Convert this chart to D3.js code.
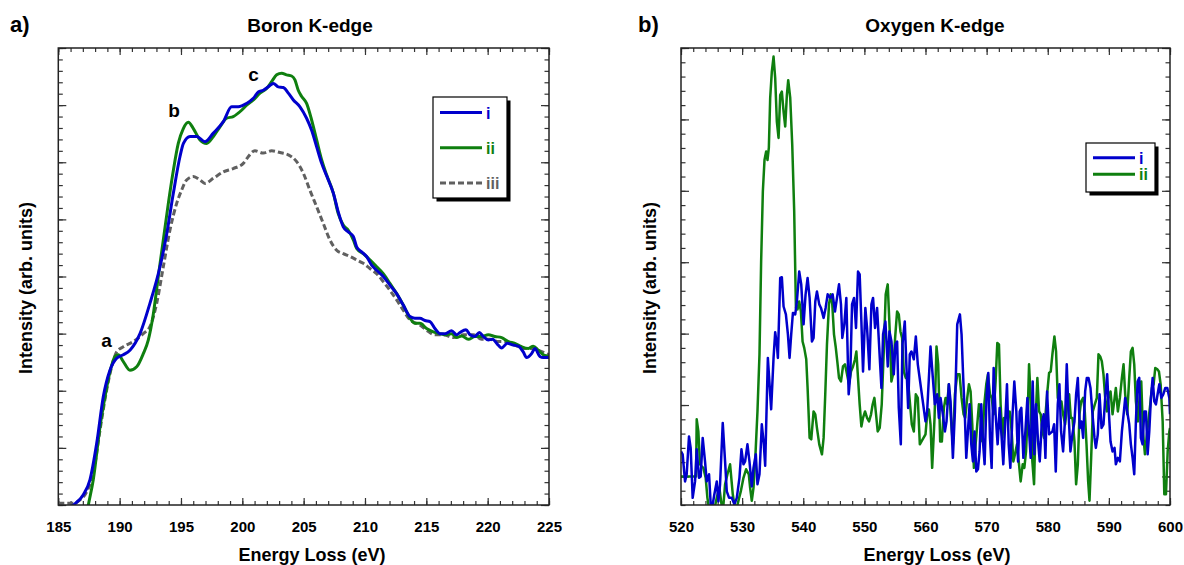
<!DOCTYPE html>
<html>
<head>
<meta charset="utf-8">
<style>
  body { margin: 0; background: #fff; }
  text { font-family: Arial, "Liberation Sans", sans-serif; font-weight: bold; }
</style>
</head>
<body>
<svg id="chart" width="1184" height="565"></svg>
<script src="https://d3js.org/d3.v7.min.js"></script>
<script>
var blue = "#0000cc", green = "#0f7f0f", grey = "#606060";

// Boron K-edge spectra, [energy loss (eV), intensity (arb.)]
var boronI = [[185.5,-0.1],[186.23,0.0],[187.04,0.18],[187.58,0.44],[188.13,1.08],[188.67,1.90],[189.21,2.36],[189.76,2.57],[190.30,2.63],[190.84,2.71],[191.66,3.00],[192.47,3.53],[193.29,4.17],[193.84,4.75],[194.38,5.46],[194.92,6.10],[195.20,6.33],[195.74,6.45],[196.28,6.45],[196.96,6.36],[197.64,6.51],[198.45,6.71],[199.13,6.97],[199.67,6.97],[200.35,7.03],[200.90,7.12],[201.30,7.23],[201.71,7.26],[202.12,7.32],[202.53,7.38],[202.93,7.32],[203.34,7.31],[203.75,7.21],[204.16,7.09],[204.70,6.97],[205.24,6.77],[205.65,6.56],[206.06,6.27],[206.47,5.98],[207.01,5.69],[207.42,5.46],[207.82,5.13],[208.23,4.87],[208.64,4.78],[209.05,4.70],[209.32,4.52],[209.73,4.43],[210.13,4.35],[210.54,4.20],[210.95,4.11],[211.49,4.00],[212.03,3.85],[212.58,3.70],[213.12,3.50],[213.67,3.30],[214.07,3.27],[214.48,3.27],[214.89,3.23],[215.30,3.21],[215.70,3.09],[216.11,3.00],[216.52,3.00],[217.06,3.05],[217.47,2.98],[217.74,3.02],[218.23,3.07],[218.56,2.98],[218.96,2.95],[219.32,3.02],[219.64,2.95],[220.05,2.89],[220.40,2.90],[220.86,2.80],[221.14,2.75],[221.60,2.83],[222.09,2.80],[222.49,2.78],[222.90,2.68],[223.17,2.58],[223.58,2.65],[223.85,2.74],[224.26,2.60],[224.53,2.58],[225.0,2.58]];

var boronII = [[187.2,-0.3],[187.45,0.0],[187.85,0.44],[188.40,1.37],[188.81,1.90],[189.21,2.33],[189.62,2.60],[189.89,2.63],[190.30,2.51],[190.84,2.36],[191.39,2.42],[191.93,2.65],[192.34,2.89],[192.75,3.35],[193.15,4.00],[193.56,4.64],[193.97,5.28],[194.38,5.86],[194.78,6.33],[195.19,6.59],[195.60,6.70],[196.01,6.59],[196.55,6.39],[197.09,6.33],[197.64,6.45],[198.18,6.62],[198.72,6.77],[199.26,6.80],[199.94,6.91],[200.35,7.00],[200.90,7.09],[201.44,7.21],[201.98,7.29],[202.39,7.41],[202.80,7.53],[203.21,7.56],[203.61,7.53],[204.02,7.51],[204.29,7.44],[204.56,7.26],[204.84,7.15],[205.24,7.03],[205.65,6.74],[206.06,6.39],[206.47,6.04],[206.87,5.78],[207.42,5.46],[207.82,5.10],[208.23,4.90],[208.64,4.81],[209.05,4.64],[209.32,4.49],[209.86,4.40],[210.40,4.29],[210.95,4.17],[211.49,4.05],[212.03,3.88],[212.58,3.70],[213.12,3.50],[213.67,3.27],[214.07,3.18],[214.48,3.18],[215.02,3.09],[215.57,3.03],[216.11,3.00],[216.65,2.98],[217.06,3.00],[217.47,2.93],[217.88,2.96],[218.42,2.90],[218.96,2.95],[219.51,2.95],[220.05,2.98],[220.59,2.95],[221.14,2.93],[221.68,2.86],[222.22,2.83],[222.77,2.77],[223.31,2.74],[223.72,2.78],[224.12,2.71],[224.53,2.63],[225.0,2.60]];

var boronIII = [[185.0,0.03],[186.23,0.03],[186.77,0.09],[187.31,0.23],[187.85,0.55],[188.40,1.31],[188.94,2.01],[189.35,2.42],[189.76,2.68],[190.30,2.77],[191.11,2.86],[191.93,3.00],[192.47,3.12],[193.02,3.53],[193.56,4.17],[194.10,4.81],[194.65,5.28],[195.05,5.51],[195.46,5.69],[196.01,5.75],[196.55,5.69],[196.96,5.63],[197.64,5.72],[198.45,5.83],[199.26,5.89],[200.08,5.98],[200.35,6.06],[201.03,6.20],[201.71,6.16],[202.39,6.20],[203.07,6.17],[203.75,6.13],[204.43,6.01],[204.97,5.81],[205.51,5.51],[206.06,5.22],[206.60,4.93],[207.14,4.64],[207.69,4.46],[208.23,4.40],[208.77,4.35],[209.32,4.29],[209.86,4.23],[210.40,4.14],[210.95,4.05],[211.49,3.91],[212.03,3.76],[212.58,3.59],[213.12,3.41],[213.67,3.24],[214.48,3.15],[215.02,3.06],[215.70,2.98],[216.38,2.98],[217.20,2.93],[218.01,2.98],[218.83,2.98],[219.51,2.90],[220.19,2.90],[220.86,2.86],[221.54,2.86],[222.22,2.80],[222.90,2.74],[223.58,2.74],[224.12,2.71],[225.0,2.63]];

var boronPeaks = ["a", "b", "c"];
var boronPeakAt = [[188.94,2.77],[194.43,6.79],[200.91,7.43]];

// Oxygen K-edge spectra
var oxygenI = [[520.00,0.35],[520.27,0.31],[520.66,-0.07],[520.93,0.03],[521.31,0.56],[521.58,0.40],[521.91,-0.30],[522.30,-0.07],[522.57,0.38],[522.95,-0.02],[523.22,0.00],[523.55,0.54],[523.93,0.21],[524.21,-0.07],[524.59,0.03],[524.86,-0.39],[525.19,-0.39],[525.46,-0.25],[525.85,-0.07],[526.12,-0.35],[526.39,-0.11],[526.83,0.75],[527.21,0.21],[527.49,-0.21],[527.87,-0.30],[528.31,-0.30],[528.74,-0.39],[529.13,-0.30],[529.56,-0.02],[529.89,0.38],[530.22,0.17],[530.49,0.21],[530.87,0.45],[531.20,0.21],[531.58,-0.14],[531.86,0.12],[532.24,0.31],[532.51,-0.11],[532.84,0.03],[533.22,0.73],[533.55,0.45],[533.77,0.15],[534.21,1.66],[534.75,0.94],[535.14,1.66],[535.41,2.02],[535.68,1.85],[535.85,1.66],[536.23,2.78],[536.50,2.79],[536.78,2.38],[537.16,2.27],[537.49,1.99],[537.76,1.66],[538.03,1.99],[538.31,2.29],[538.69,2.27],[538.96,2.45],[539.34,2.87],[539.67,2.69],[540.05,2.13],[540.38,2.55],[540.71,2.78],[541.04,2.50],[541.42,1.89],[541.69,1.94],[541.97,2.45],[542.24,2.59],[542.62,2.41],[542.90,2.36],[543.33,2.22],[543.66,2.36],[543.99,2.55],[544.43,2.50],[544.81,2.55],[545.19,2.31],[545.52,2.50],[545.85,2.69],[546.17,2.41],[546.39,1.94],[546.72,2.13],[547.05,2.50],[547.43,1.15],[547.70,1.43],[547.98,2.41],[548.31,2.50],[548.63,2.08],[548.96,2.87],[549.23,2.83],[549.51,2.17],[549.78,1.47],[550.16,2.36],[550.44,2.08],[550.82,1.50],[551.15,2.41],[551.42,2.50],[551.75,2.08],[552.08,2.36],[552.40,1.85],[552.79,1.24],[553.06,1.99],[553.44,2.17],[553.83,1.54],[554.10,2.03],[554.43,1.89],[554.81,1.43],[555.08,1.85],[555.36,1.89],[555.63,0.96],[555.96,0.45],[556.23,1.85],[556.61,2.17],[556.89,1.52],[557.16,0.96],[557.43,1.71],[557.70,1.75],[558.09,1.64],[558.42,1.96],[558.74,1.57],
  [560.00,0.77],[560.27,0.91],[560.82,1.82],[561.20,1.38],[561.53,1.01],[561.91,1.15],[562.19,0.82],[562.46,1.10],[562.84,0.87],[563.17,0.63],[563.44,0.77],[563.82,1.29],[564.10,1.05],[564.48,0.26],[564.81,0.91],[565.19,2.13],[565.63,2.27],[565.90,1.99],[566.17,1.38],[566.45,0.82],[566.67,0.26],[566.94,0.63],[567.21,1.01],[567.49,0.45],[567.76,0.21],[568.03,0.63],[568.31,0.07],[568.58,0.10],[568.85,0.35],[569.12,1.01],[569.40,0.49],[569.67,0.17],[570.00,1.15],[570.27,1.45],[570.55,0.54],[570.82,0.12],[571.15,1.52],[571.47,0.87],[571.80,0.45],[572.13,0.96],[572.46,0.54],[572.73,0.17],[573.00,0.68],[573.33,1.29],[573.61,0.45],[573.88,0.12],[574.21,0.82],[574.53,1.33],[574.86,0.91],[575.14,0.21],[575.41,0.91],[575.68,0.96],[576.01,0.26],[576.34,0.63],[576.67,1.10],[576.94,0.63],[577.21,0.26],[577.54,1.33],[577.81,0.31],[578.09,1.01],[578.41,0.49],[578.69,0.21],[579.01,0.73],[579.34,0.87],[579.62,0.26],[579.89,1.19],[580.22,0.59],[580.49,0.61],[580.76,0.63],[581.04,0.73],[581.31,0.07],[581.64,1.01],[581.91,1.29],[582.18,0.63],[582.51,0.35],[582.84,0.82],[583.11,1.57],[583.39,0.91],[583.71,0.35],[584.04,0.59],[584.37,0.77],[584.64,1.15],[584.92,1.38],[585.24,0.68],[585.52,0.77],[585.79,0.54],[586.12,1.19],[586.39,1.38],[586.67,1.38],[586.99,1.24],[587.32,0.87],[587.65,0.54],[587.87,0.40],[588.19,0.59],[588.47,1.15],[588.80,0.68],[589.12,0.73],[589.40,1.10],[589.72,1.43],[590.05,0.82],[590.27,0.49],[590.60,0.35],[590.93,0.40],[591.14,0.17],[591.47,0.26],[591.80,0.21],[592.13,0.63],[592.46,0.91],[592.67,1.10],[593.00,0.91],[593.33,0.73],[593.60,0.45],[593.88,0.26],[594.15,0.03],[594.42,0.77],[594.70,1.33],[594.97,1.38],[595.24,0.54],[595.52,0.45],[595.79,0.91],[596.06,0.91],[596.34,0.31],[596.61,0.63],[596.88,1.10],[597.16,1.38],[597.43,1.05],[597.70,1.01],[597.97,1.15],[598.25,1.29],[598.58,1.10],[598.90,1.15],[599.23,1.24],[599.56,1.24],[599.89,1.10],[600.00,0.87]];

var oxygenII = [[520.00,0.00],[522.46,0.00],[522.57,0.80],[522.84,0.63],[523.11,0.17],[523.39,0.14],[523.66,0.12],[524.04,-0.02],[524.32,-0.30],[524.64,-0.48],[525.03,-0.53],[525.41,-0.48],[525.85,-0.30],[526.28,-0.16],[526.67,-0.42],[526.94,-0.40],[527.21,-0.11],[527.60,0.03],[528.03,0.17],[528.47,-0.25],[528.85,-0.46],[529.13,-0.44],[529.51,-0.30],[529.78,-0.21],[530.22,-0.02],[530.65,0.10],[531.09,0.03],[531.31,-0.16],[531.58,-0.34],[531.86,-0.16],[532.13,0.21],[532.51,0.91],[532.84,1.71],[533.11,3.01],[533.39,3.99],[533.66,4.43],[533.93,4.55],[534.15,4.43],[534.37,4.60],[534.59,5.30],[534.86,5.67],[535.14,5.88],[535.41,5.58],[535.68,4.97],[535.96,4.74],[536.23,5.34],[536.50,5.39],[536.78,5.11],[537.05,4.90],[537.32,5.34],[537.54,5.55],[537.87,5.30],[538.20,4.64],[538.52,3.71],[538.80,2.36],[539.07,2.34],[539.34,2.45],[539.62,2.31],[539.89,1.89],[540.16,1.80],[540.49,1.64],[540.71,1.24],[541.04,0.54],[541.31,0.52],[541.69,0.91],[541.97,0.87],[542.24,0.68],[542.62,0.45],[543.06,0.31],[543.33,0.54],[543.60,1.15],[543.88,1.85],[544.21,2.41],[544.48,2.55],[544.75,2.41],[545.03,1.99],[545.30,1.82],[545.57,1.61],[545.85,1.38],[546.17,1.33],[546.50,1.54],[546.83,1.57],[547.16,1.43],[547.48,1.29],[547.81,1.47],[548.14,1.54],[548.47,1.64],[548.69,1.75],[548.96,1.38],[549.23,1.01],[549.51,0.70],[549.78,0.82],[550.11,0.91],[550.44,0.82],[550.76,0.77],[551.09,0.87],[551.36,1.01],[551.64,1.10],[551.91,0.87],[552.18,0.63],[552.51,0.68],[552.84,1.01],[553.17,1.75],[553.49,2.55],[553.82,2.69],[554.15,2.03],[554.42,1.33],[554.70,1.43],[555.03,1.94],[555.35,2.31],[555.63,2.27],[555.90,2.03],[556.17,1.94],[556.45,1.47],[556.77,1.38],[557.10,1.38],[557.43,1.05],[557.76,0.73],[558.09,0.63],[558.41,1.15],[558.74,1.10],[559.07,0.45],
  [560.00,0.59],[560.27,0.87],[560.55,0.94],[560.82,0.73],[561.09,0.12],[561.48,0.82],[561.80,1.82],[562.08,1.57],[562.40,0.49],[562.68,0.49],[563.01,0.96],[563.28,1.10],[563.55,1.01],[563.82,1.29],[564.15,0.82],[564.48,0.45],[564.81,1.15],[565.19,1.43],[565.57,1.43],[565.90,1.10],[566.23,0.87],[566.50,0.82],[566.83,1.10],[567.10,1.29],[567.38,1.19],[567.65,0.73],[567.92,0.12],[568.20,0.45],[568.47,0.73],[568.74,1.01],[569.02,0.82],[569.29,0.49],[569.62,1.01],[569.94,1.29],[570.22,1.43],[570.55,1.15],[570.82,1.10],[571.15,0.87],[571.47,1.33],[571.75,1.87],[572.02,1.85],[572.29,1.01],[572.57,0.54],[572.84,0.82],[573.11,0.82],[573.44,0.87],[573.77,0.91],[574.10,0.63],[574.37,0.21],[574.64,0.31],[574.97,0.45],[575.30,0.17],[575.57,-0.07],[575.90,0.17],[576.17,0.12],[576.45,0.35],[576.72,0.87],[576.94,1.57],[577.21,1.10],[577.48,0.21],[577.76,-0.11],[578.03,0.82],[578.30,1.38],[578.58,0.91],[578.85,0.87],[579.12,0.63],[579.40,0.54],[579.67,0.91],[579.94,1.19],[580.22,1.45],[580.49,1.47],[580.76,1.71],[581.09,1.96],[581.36,1.75],[581.64,1.10],[581.91,1.05],[582.24,1.05],[582.51,0.87],[582.84,0.73],[583.17,1.01],[583.50,1.15],[583.77,0.82],[584.04,0.82],[584.37,0.49],[584.64,-0.11],[584.92,0.17],[585.19,0.87],[585.46,1.05],[585.79,1.10],[586.06,0.91],[586.34,0.45],[586.61,-0.07],[586.83,-0.34],[587.10,0.26],[587.37,0.91],[587.70,1.01],[588.03,1.10],[588.30,1.71],[588.58,1.68],[588.85,1.61],[589.12,1.43],[589.40,1.10],[589.67,0.91],[589.94,1.10],[590.27,1.19],[590.60,0.87],[590.87,1.05],[591.14,1.24],[591.47,0.91],[591.80,1.10],[592.13,1.38],[592.40,1.57],[592.67,1.15],[593.00,0.87],[593.33,1.38],[593.60,1.75],[593.88,1.80],[594.15,1.57],[594.42,1.05],[594.75,0.77],[595.02,1.10],[595.30,1.33],[595.57,0.63],[595.90,0.31],[596.17,0.54],[596.45,0.77],[596.77,1.01],[597.05,1.24],[597.32,1.29],[597.59,1.52],[597.92,1.50],[598.19,1.47],[598.47,1.29],[598.80,0.77],[599.07,-0.25],[599.34,-0.25],[599.62,0.35],[599.89,0.63],[600.00,0.68]];

var boronTicks = [185, 190, 195, 200, 205, 210, 215, 220, 225];
var oxygenTicks = [520, 530, 540, 550, 560, 570, 580, 590, 600];

var svg = d3.select("#chart");

function drawPanel(p) {
  var x = d3.scaleLinear().domain(p.xDomain).range([p.left, p.right]);
  var y = d3.scaleLinear().domain(p.yDomain).range([505, 48]);
  var g = svg.append("g");

  var xMinor = d3.range(p.xDomain[0], p.xDomain[1] + 0.001, p.xMinorStep);
  var yMajor = d3.range(Math.ceil(p.yDomain[0]), p.yDomain[1] + 0.001, 1);
  var yMinor = d3.range(0, 200).map(function (i) { return p.yDomain[0] + i * 0.2; })
    .filter(function (v) { return v <= p.yDomain[1] + 0.001; });

  function ticks(axis, values, size, tr, labels) {
    var a = axis.tickValues(values).tickSize(-size).tickPadding(16);
    if (!labels) a.tickFormat("");
    var s = g.append("g").attr("transform", tr).call(a);
    s.select(".domain").remove();
    s.selectAll("line").attr("stroke", "#333").attr("stroke-width", 1.2);
    s.selectAll("text").attr("font-size", 15).attr("fill", "#000")
      .style("font-family", "Arial, 'Liberation Sans', sans-serif").style("font-weight", "bold");
    return s;
  }

  ticks(d3.axisBottom(x), xMinor, 4, "translate(0,505)");
  ticks(d3.axisBottom(x), p.xTicks, 7, "translate(0,505)", true);
  ticks(d3.axisTop(x), xMinor, 4, "translate(0,48)");
  ticks(d3.axisTop(x), p.xTicks, 7, "translate(0,48)");
  ticks(d3.axisLeft(y), yMinor, 4.5, "translate(" + p.left + ",0)");
  ticks(d3.axisLeft(y), yMajor, 8, "translate(" + p.left + ",0)");
  ticks(d3.axisRight(y), yMinor, 4.5, "translate(" + p.right + ",0)");
  ticks(d3.axisRight(y), yMajor, 8, "translate(" + p.right + ",0)");

  svg.append("clipPath").attr("id", p.id)
    .append("rect").attr("x", p.left).attr("y", 48)
    .attr("width", p.right - p.left).attr("height", 457);

  var line = d3.line()
    .x(function (d) { return x(d[0]); })
    .y(function (d) { return y(d[1]); })
    .curve(p.curve);

  var plot = g.append("g").attr("clip-path", "url(#" + p.id + ")");
  p.series.slice().reverse().forEach(function (s) {
    plot.append("path").datum(s.data)
      .attr("d", line)
      .attr("fill", "none")
      .attr("stroke", s.color)
      .attr("stroke-width", p.width)
      .attr("stroke-dasharray", s.dash || null)
      .attr("stroke-linejoin", "round");
  });

  g.append("rect")
    .attr("x", p.left).attr("y", 48)
    .attr("width", p.right - p.left).attr("height", 457)
    .attr("fill", "none").attr("stroke", "#222").attr("stroke-width", 1.5);

  // legend
  var lg = p.legend;
  g.append("rect").attr("x", lg.x + 3.5).attr("y", lg.y + 3.5)
    .attr("width", lg.w).attr("height", lg.h).attr("fill", "#000");
  g.append("rect").attr("x", lg.x).attr("y", lg.y)
    .attr("width", lg.w).attr("height", lg.h)
    .attr("fill", "#fff").attr("stroke", "#000").attr("stroke-width", 1.2);
  p.series.forEach(function (s, i) {
    var ly = lg.y + lg.first + i * lg.gap;
    g.append("line")
      .attr("x1", lg.x + 7).attr("x2", lg.x + 7 + lg.len)
      .attr("y1", ly).attr("y2", ly)
      .attr("stroke", s.color).attr("stroke-width", p.legendWidth)
      .attr("stroke-dasharray", s.dash || null);
    g.append("text")
      .attr("x", lg.x + 11 + lg.len).attr("y", ly + 6)
      .attr("font-size", 16).attr("fill", s.color)
      .text(s.name);
  });

  g.append("text").attr("x", p.titleX).attr("y", 32)
    .attr("text-anchor", "middle").attr("font-size", 19).text(p.title);
  g.append("text").attr("x", p.tagX).attr("y", 32)
    .attr("font-size", 22).text(p.tag);
  g.append("text").attr("x", p.titleX + 2).attr("y", 561)
    .attr("text-anchor", "middle").attr("font-size", 18).text("Energy Loss (eV)");
  g.append("text")
    .attr("transform", "translate(" + p.yLabelX + ",288) rotate(-90)")
    .attr("text-anchor", "middle").attr("font-size", 18)
    .text("Intensity (arb. units)");

  return { x: x, y: y, g: g };
}

var boron = drawPanel({
  id: "clipB", left: 58.3, right: 549,
  xDomain: [185, 225], xTicks: boronTicks, xMinorStep: 1,
  yDomain: [0, 8], curve: d3.curveMonotoneX, width: 3, legendWidth: 3,
  series: [
    { name: "i", data: boronI, color: blue },
    { name: "ii", data: boronII, color: green },
    { name: "iii", data: boronIII, color: grey, dash: "6,3" }
  ],
  legend: { x: 433, y: 97, w: 74, h: 101, first: 15.5, gap: 35.2, len: 42 },
  title: "Boron K-edge", titleX: 310, tag: "a)", tagX: 10, yLabelX: 32
});

boron.g.selectAll(".peak").data(boronPeaks).enter()
  .append("text").attr("class", "peak")
  .attr("x", function (d, i) { return boron.x(boronPeakAt[i][0]); })
  .attr("y", function (d, i) { return boron.y(boronPeakAt[i][1]); })
  .attr("text-anchor", "middle").attr("font-size", 19)
  .text(function (d) { return d; });

drawPanel({
  id: "clipO", left: 681, right: 1170,
  xDomain: [520, 600], xTicks: oxygenTicks, xMinorStep: 2,
  yDomain: [-0.4, 6], curve: d3.curveLinear, width: 2.5, legendWidth: 3,
  series: [
    { name: "i", data: oxygenI, color: blue },
    { name: "ii", data: oxygenII, color: green }
  ],
  legend: { x: 1086, y: 143, w: 69, h: 49, first: 14.7, gap: 16.6, len: 42 },
  title: "Oxygen K-edge", titleX: 935, tag: "b)", tagX: 638, yLabelX: 656
});
</script>
</body>
</html>
